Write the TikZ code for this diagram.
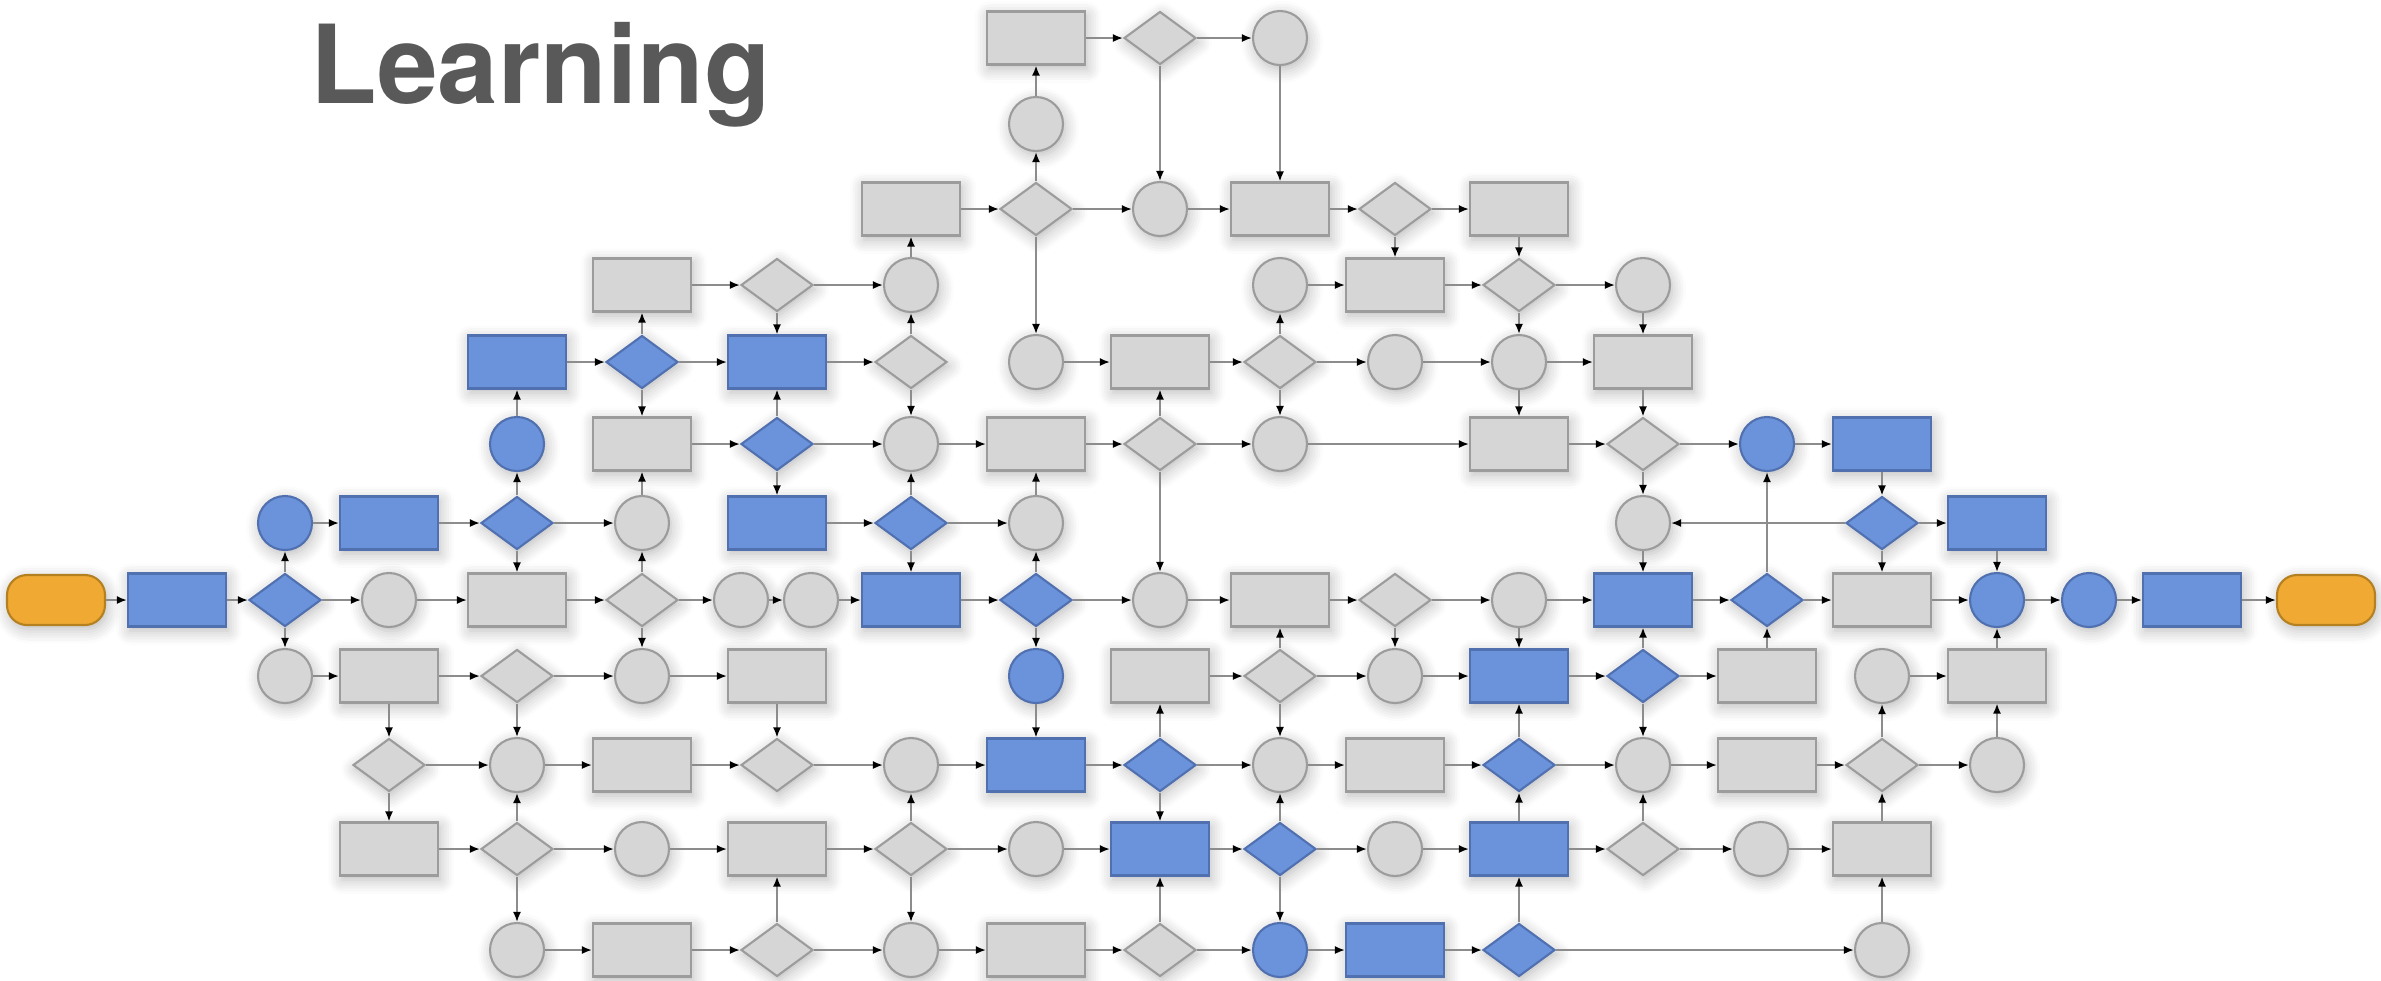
\documentclass[tikz,border=0pt]{standalone}
\usepackage{fontspec}
\setmainfont{TeX Gyre Heros}
\usepackage{xcolor}
\usepackage{tikz}
\usetikzlibrary{shapes.geometric,arrows.meta,shadows.blur}
\definecolor{grisrelleno}{HTML}{D6D6D6}
\definecolor{grisborde}{HTML}{9C9C9C}
\definecolor{azulrelleno}{HTML}{6B93DC}
\definecolor{azulborde}{HTML}{5070B0}
\definecolor{naranja}{HTML}{F0AA33}
\definecolor{naranjaborde}{HTML}{B5801F}
\definecolor{linea}{HTML}{8C8C8C}
\definecolor{titulo}{HTML}{595959}
\tikzset{
  forma/.style={line width=0.6pt,inner sep=0pt,
    blur shadow={shadow xshift=0.6pt,shadow yshift=-1.2pt,shadow blur radius=4pt,shadow blur steps=6,shadow opacity=28}},
  caja/.style={forma,rectangle,minimum width=0.98cm,minimum height=0.53cm,fill=grisrelleno,draw=grisborde},
  rombo/.style={forma,diamond,minimum width=0.72cm,minimum height=0.53cm,fill=grisrelleno,draw=grisborde},
  circ/.style={forma,circle,minimum size=0.54cm,fill=grisrelleno,draw=grisborde},
  azul/.style={fill=azulrelleno,draw=azulborde},
  term/.style={forma,rectangle,rounded corners=0.2cm,minimum width=0.98cm,minimum height=0.50cm,fill=naranja,draw=naranjaborde},
  flecha/.style={-{Latex[length=1mm,width=0.8mm,color=black]},line width=0.5pt,draw=linea}
}

\begin{document}
\begin{tikzpicture}
\useasboundingbox (0,0) rectangle (23.81,-9.80);
\node[anchor=base west,inner sep=0pt,text=titulo,font=\bfseries\fontsize{31}{37}\selectfont] (titulo) at (3.10,-1.03) {Learning};
% fila A y B
\node[caja] (a9) at (10.36,-0.38) {}; \node[rombo] (a10) at (11.60,-0.38) {}; \node[circ] (a11) at (12.80,-0.38) {};
\node[circ] (b9) at (10.36,-1.24) {};
% fila C
\node[caja] (c8) at (9.11,-2.09) {}; \node[rombo] (c9) at (10.36,-2.09) {}; \node[circ] (c10) at (11.60,-2.09) {};
\node[caja] (c11) at (12.80,-2.09) {}; \node[rombo] (c12) at (13.95,-2.09) {}; \node[caja] (c13) at (15.19,-2.09) {};
% fila D
\node[caja] (d6) at (6.42,-2.85) {}; \node[rombo] (d7) at (7.77,-2.85) {}; \node[circ] (d8) at (9.11,-2.85) {};
\node[circ] (d11) at (12.80,-2.85) {}; \node[caja] (d12) at (13.95,-2.85) {}; \node[rombo] (d13) at (15.19,-2.85) {};
\node[circ] (d14) at (16.43,-2.85) {};
% fila E
\node[caja,azul] (e5) at (5.17,-3.62) {}; \node[rombo,azul] (e6) at (6.42,-3.62) {}; \node[caja,azul] (e7) at (7.77,-3.62) {};
\node[rombo] (e8) at (9.11,-3.62) {}; \node[circ] (e9) at (10.36,-3.62) {}; \node[caja] (e10) at (11.60,-3.62) {};
\node[rombo] (e11) at (12.80,-3.62) {}; \node[circ] (e12) at (13.95,-3.62) {}; \node[circ] (e13) at (15.19,-3.62) {};
\node[caja] (e14) at (16.43,-3.62) {};
% fila F
\node[circ,azul] (f5) at (5.17,-4.44) {}; \node[caja] (f6) at (6.42,-4.44) {}; \node[rombo,azul] (f7) at (7.77,-4.44) {};
\node[circ] (f8) at (9.11,-4.44) {}; \node[caja] (f9) at (10.36,-4.44) {}; \node[rombo] (f10) at (11.60,-4.44) {};
\node[circ] (f11) at (12.80,-4.44) {}; \node[caja] (f13) at (15.19,-4.44) {}; \node[rombo] (f14) at (16.43,-4.44) {};
\node[circ,azul] (f15) at (17.67,-4.44) {}; \node[caja,azul] (f16) at (18.82,-4.44) {};
% fila G
\node[circ,azul] (g3) at (2.85,-5.23) {}; \node[caja,azul] (g4) at (3.89,-5.23) {}; \node[rombo,azul] (g5) at (5.17,-5.23) {};
\node[circ] (g6) at (6.42,-5.23) {}; \node[caja,azul] (g7) at (7.77,-5.23) {}; \node[rombo,azul] (g8) at (9.11,-5.23) {};
\node[circ] (g9) at (10.36,-5.23) {}; \node[circ] (g14) at (16.43,-5.23) {}; \node[rombo,azul] (g16) at (18.82,-5.23) {};
\node[caja,azul] (g17) at (19.97,-5.23) {};
% fila H
\node[term] (h1) at (0.56,-6.00) {}; \node[caja,azul] (h2) at (1.77,-6.00) {}; \node[rombo,azul] (h3) at (2.85,-6.00) {};
\node[circ] (h4) at (3.89,-6.00) {}; \node[caja] (h5) at (5.17,-6.00) {}; \node[rombo] (h6) at (6.42,-6.00) {};
\node[circ] (h7a) at (7.41,-6.00) {}; \node[circ] (h7b) at (8.11,-6.00) {}; \node[caja,azul] (h8) at (9.11,-6.00) {};
\node[rombo,azul] (h9) at (10.36,-6.00) {}; \node[circ] (h10) at (11.60,-6.00) {}; \node[caja] (h11) at (12.80,-6.00) {};
\node[rombo] (h12) at (13.95,-6.00) {}; \node[circ] (h13) at (15.19,-6.00) {}; \node[caja,azul] (h14) at (16.43,-6.00) {};
\node[rombo,azul] (h15) at (17.67,-6.00) {}; \node[caja] (h16) at (18.82,-6.00) {}; \node[circ,azul] (h17) at (19.97,-6.00) {};
\node[circ,azul] (h18) at (20.89,-6.00) {}; \node[caja,azul] (h19) at (21.92,-6.00) {}; \node[term] (h20) at (23.26,-6.00) {};
% fila I
\node[circ] (i3) at (2.85,-6.76) {}; \node[caja] (i4) at (3.89,-6.76) {}; \node[rombo] (i5) at (5.17,-6.76) {};
\node[circ] (i6) at (6.42,-6.76) {}; \node[caja] (i7) at (7.77,-6.76) {}; \node[circ,azul] (i9) at (10.36,-6.76) {};
\node[caja] (i10) at (11.60,-6.76) {}; \node[rombo] (i11) at (12.80,-6.76) {}; \node[circ] (i12) at (13.95,-6.76) {};
\node[caja,azul] (i13) at (15.19,-6.76) {}; \node[rombo,azul] (i14) at (16.43,-6.76) {}; \node[caja] (i15) at (17.67,-6.76) {};
\node[circ] (i16) at (18.82,-6.76) {}; \node[caja] (i17) at (19.97,-6.76) {};
% fila J
\node[rombo] (j4) at (3.89,-7.65) {}; \node[circ] (j5) at (5.17,-7.65) {}; \node[caja] (j6) at (6.42,-7.65) {};
\node[rombo] (j7) at (7.77,-7.65) {}; \node[circ] (j8) at (9.11,-7.65) {}; \node[caja,azul] (j9) at (10.36,-7.65) {};
\node[rombo,azul] (j10) at (11.60,-7.65) {}; \node[circ] (j11) at (12.80,-7.65) {}; \node[caja] (j12) at (13.95,-7.65) {};
\node[rombo,azul] (j13) at (15.19,-7.65) {}; \node[circ] (j14) at (16.43,-7.65) {}; \node[caja] (j15) at (17.67,-7.65) {};
\node[rombo] (j16) at (18.82,-7.65) {}; \node[circ] (j17) at (19.97,-7.65) {};
% fila K
\node[caja] (k4) at (3.89,-8.49) {}; \node[rombo] (k5) at (5.17,-8.49) {}; \node[circ] (k6) at (6.42,-8.49) {};
\node[caja] (k7) at (7.77,-8.49) {}; \node[rombo] (k8) at (9.11,-8.49) {}; \node[circ] (k9) at (10.36,-8.49) {};
\node[caja,azul] (k10) at (11.60,-8.49) {}; \node[rombo,azul] (k11) at (12.80,-8.49) {}; \node[circ] (k12) at (13.95,-8.49) {};
\node[caja,azul] (k13) at (15.19,-8.49) {}; \node[rombo] (k14) at (16.43,-8.49) {}; \node[circ] (k15) at (17.61,-8.49) {};
\node[caja] (k16) at (18.82,-8.49) {};
% fila L
\node[circ] (l5) at (5.17,-9.50) {}; \node[caja] (l6) at (6.42,-9.50) {}; \node[rombo] (l7) at (7.77,-9.50) {};
\node[circ] (l8) at (9.11,-9.50) {}; \node[caja] (l9) at (10.36,-9.50) {}; \node[rombo] (l10) at (11.60,-9.50) {};
\node[circ,azul] (l11) at (12.80,-9.50) {}; \node[caja,azul] (l12) at (13.95,-9.50) {}; \node[rombo,azul] (l13) at (15.19,-9.50) {};
\node[circ] (l16) at (18.82,-9.50) {};
% conexiones horizontales
\draw[flecha] (a9) edge (a10) (a10) edge (a11);
\draw[flecha] (c8) edge (c9) (c9) edge (c10) (c10) edge (c11) (c11) edge (c12) (c12) edge (c13);
\draw[flecha] (d6) edge (d7) (d7) edge (d8) (d11) edge (d12) (d12) edge (d13) (d13) edge (d14);
\draw[flecha] (e5) edge (e6) (e6) edge (e7) (e7) edge (e8) (e9) edge (e10) (e10) edge (e11) (e11) edge (e12)
  (e12) edge (e13) (e13) edge (e14);
\draw[flecha] (f6) edge (f7) (f7) edge (f8) (f8) edge (f9) (f9) edge (f10) (f10) edge (f11) (f11) edge (f13)
  (f13) edge (f14) (f14) edge (f15) (f15) edge (f16);
\draw[flecha] (g3) edge (g4) (g4) edge (g5) (g5) edge (g6) (g7) edge (g8) (g8) edge (g9) (g16) edge (g14) (g16) edge (g17);
\draw[flecha] (h1) edge (h2) (h2) edge (h3) (h3) edge (h4) (h4) edge (h5) (h5) edge (h6) (h6) edge (h7a) (h7a) edge (h7b)
  (h7b) edge (h8) (h8) edge (h9) (h9) edge (h10) (h10) edge (h11) (h11) edge (h12) (h12) edge (h13) (h13) edge (h14)
  (h14) edge (h15) (h15) edge (h16) (h16) edge (h17) (h17) edge (h18) (h18) edge (h19) (h19) edge (h20);
\draw[flecha] (i3) edge (i4) (i4) edge (i5) (i5) edge (i6) (i6) edge (i7) (i10) edge (i11) (i11) edge (i12) (i12) edge (i13)
  (i13) edge (i14) (i14) edge (i15) (i16) edge (i17);
\draw[flecha] (j4) edge (j5) (j5) edge (j6) (j6) edge (j7) (j7) edge (j8) (j8) edge (j9) (j9) edge (j10) (j10) edge (j11)
  (j11) edge (j12) (j12) edge (j13) (j13) edge (j14) (j14) edge (j15) (j15) edge (j16) (j16) edge (j17);
\draw[flecha] (k4) edge (k5) (k5) edge (k6) (k6) edge (k7) (k7) edge (k8) (k8) edge (k9) (k9) edge (k10) (k10) edge (k11)
  (k11) edge (k12) (k12) edge (k13) (k13) edge (k14) (k14) edge (k15) (k15) edge (k16);
\draw[flecha] (l5) edge (l6) (l6) edge (l7) (l7) edge (l8) (l8) edge (l9) (l9) edge (l10) (l10) edge (l11) (l11) edge (l12)
  (l12) edge (l13) (l13) edge (l16);
% conexiones verticales
\draw[flecha] (a10) edge (c10) (a11) edge (c11) (b9) edge (a9) (c9) edge (b9) (c9) edge (e9) (c12) edge (d12) (c13) edge (d13);
\draw[flecha] (d8) edge (c8) (e6) edge (d6) (d7) edge (e7) (e8) edge (d8) (e11) edge (d11) (d13) edge (e13) (d14) edge (e14);
\draw[flecha] (f5) edge (e5) (g5) edge (f5) (e6) edge (f6) (f7) edge (e7) (f7) edge (g7) (e8) edge (f8) (f10) edge (e10)
  (e11) edge (f11) (e13) edge (f13) (e14) edge (f14);
\draw[flecha] (g6) edge (f6) (g8) edge (f8) (g9) edge (f9) (f10) edge (h10) (f14) edge (g14) (h15) edge (f15) (f16) edge (g16);
\draw[flecha] (h3) edge (g3) (g5) edge (h5) (h6) edge (g6) (g8) edge (h8) (h9) edge (g9) (g14) edge (h14) (g16) edge (h16)
  (g17) edge (h17);
\draw[flecha] (h3) edge (i3) (h6) edge (i6) (h9) edge (i9) (i11) edge (h11) (h12) edge (i12) (h13) edge (i13) (i14) edge (h14)
  (i15) edge (h15) (i17) edge (h17);
\draw[flecha] (i4) edge (j4) (i5) edge (j5) (i7) edge (j7) (i9) edge (j9) (j10) edge (i10) (i11) edge (j11) (j13) edge (i13)
  (i14) edge (j14) (j16) edge (i16) (j17) edge (i17);
\draw[flecha] (j4) edge (k4) (k5) edge (j5) (k8) edge (j8) (j10) edge (k10) (k11) edge (j11) (k13) edge (j13) (k14) edge (j14)
  (k16) edge (j16);
\draw[flecha] (k5) edge (l5) (l7) edge (k7) (k8) edge (l8) (l10) edge (k10) (k11) edge (l11) (l13) edge (k13) (l16) edge (k16);
\end{tikzpicture}
\end{document}
